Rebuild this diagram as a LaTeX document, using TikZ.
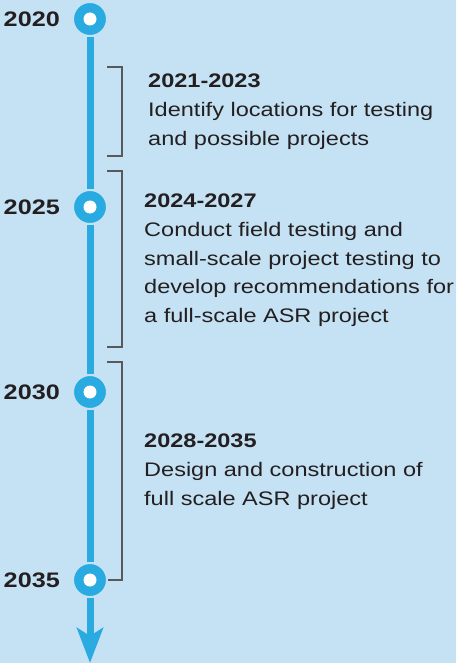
\documentclass[tikz,border=0pt]{standalone}
\usepackage{fontspec}
\setmainfont{Liberation Sans}[FakeStretch=1.2]
\usepackage{tikz}
\usetikzlibrary{arrows.meta, positioning}

\definecolor{bgblue}{HTML}{C5E2F4}
\definecolor{lineblue}{HTML}{29ABE2}
\definecolor{bracketgray}{HTML}{58595B}
\definecolor{textdark}{HTML}{231F20}

\begin{document}
\begin{tikzpicture}[x=1pt, y=-1pt,
        yearmark/.style={circle, fill=lineblue, draw=bgblue, line width=2pt,
            minimum size=34pt, inner sep=0pt,
            path picture={\fill[white] (path picture bounding box.center) circle (6.5pt);}},
        yeartext/.style={font=\fontsize{21}{24}\selectfont\bfseries, text=textdark, inner sep=0pt},
        axisline/.style={lineblue, line width=7pt},
        bracketline/.style={bracketgray, line width=2.2pt},
        phasetext/.style={font=\fontsize{19.6}{28.6}\selectfont, text=textdark,
            align=left, anchor=north west, inner sep=0pt}]
        \useasboundingbox[fill=bgblue] (0,0) rectangle (456,663);

        \node[yearmark] (m2020) at (90,19) {};
        \node[yearmark] (m2025) at (90,207) {};
        \node[yearmark] (m2030) at (90,392) {};
        \node[yearmark] (m2035) at (90,580) {};
        \coordinate (tip) at (90,663);

        \node[yeartext, left=12pt of m2020] (t2020) {2020};
        \node[yeartext, left=12pt of m2025] (t2025) {2025};
        \node[yeartext, left=12pt of m2030] (t2030) {2030};
        \node[yeartext, left=12pt of m2035] (t2035) {2035};

        \draw[axisline] (m2020) -- (m2025);
        \draw[axisline] (m2025) -- (m2030);
        \draw[axisline] (m2030) -- (m2035);
        \draw[axisline, -{Stealth[length=35pt, width=26pt, inset=8pt]}] (m2035) -- (tip);

        % brackets
        \draw[bracketline] (107,67) -| (122,156) -- (107,156);
        \draw[bracketline] (107,171) -| (122,347) -- (107,347);
        \draw[bracketline] (107,362) -| (122,580) -- (m2035.east);

        \node[phasetext] (p1) at (148,74) {\textbf{2021-2023}\\Identify locations for testing\\and possible projects};
        \node[phasetext] (p2) at (144,194) {\textbf{2024-2027}\\Conduct field testing and\\small-scale project testing to\\develop recommendations for\\a full-scale ASR project};
        \node[phasetext] (p3) at (144,434) {\textbf{2028-2035}\\Design and construction of\\full scale ASR project};
    \end{tikzpicture}
\end{document}
